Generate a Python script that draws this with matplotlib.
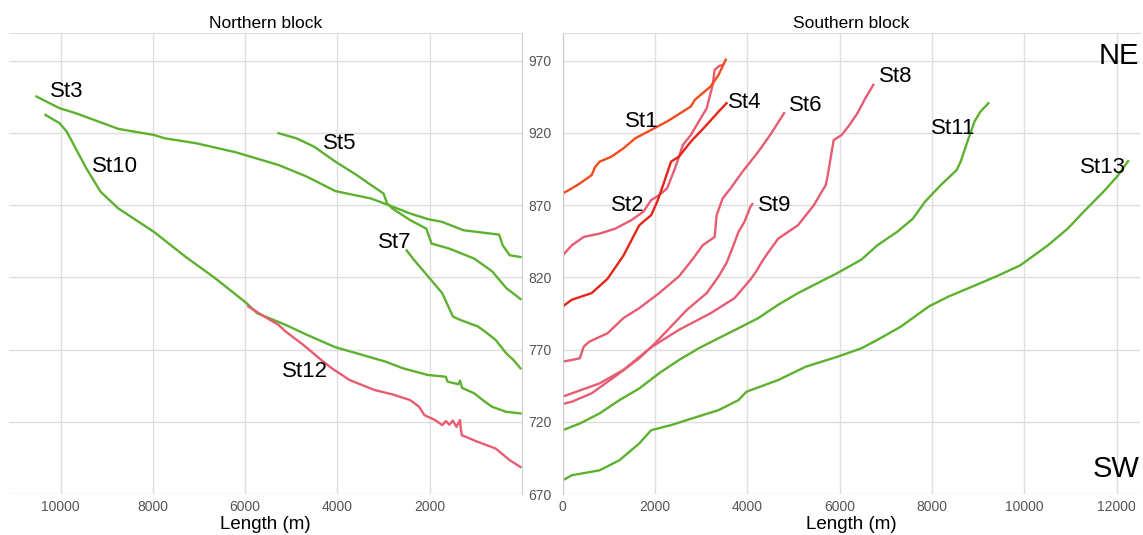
import matplotlib
matplotlib.use("Agg")
from matplotlib import pyplot as plt

plt.rcParams['font.family'] = ['Liberation Sans', 'DejaVu Sans']

# ---- Northern block (x = length from outlet, axis reversed) ----
st3_x = [10525, 10023, 9676, 8750, 7979, 7747, 7053, 6204, 5278, 4661, 4044, 3273, 2887,
         2424, 2038, 1730, 1267, 496, 419, 265, 34]
st3_y = [945.2, 937.1, 933.7, 922.8, 918.6, 916.3, 912.8, 906.6, 897.8, 889.7, 879.7, 874.6, 870.0,
         864.2, 860.3, 858.4, 852.6, 849.6, 842.2, 835.3, 834.1]

st5_x = [5278, 4893, 4507, 4044, 3581, 3273, 3002, 2925, 2810, 2424, 2077, 1961, 1575, 1035,
         649, 341, 33]
st5_y = [919.8, 916.3, 910.5, 900.1, 890.8, 883.9, 878.1, 871.2, 867.7, 859.6, 853.8, 843.4, 839.9, 833.0,
         824.2, 812.6, 805.0]

st7_x = [2501, 2347, 2038, 1730, 1498, 1344, 958, 803, 572, 341, 186, 33]
st7_y = [838.7, 832.3, 820.7, 809.1, 792.9, 790.6, 786.0, 782.5, 776.7, 767.4, 762.8, 757.0]

st10_x = [10332, 10023, 9869, 9676, 9445, 9136, 8750, 7979, 7284, 6667, 5973, 5742, 5124, 4661,
          4044, 3581, 2964, 2578, 2038, 1652, 1614, 1380, 1344, 1300, 1035, 803, 649, 341, 33]
st10_y = [932.5, 926.7, 920.9, 909.3, 895.5, 879.3, 867.7, 851.5, 834.0, 819.8, 802.2, 795.2, 787.1, 780.2,
          771.6, 767.4, 761.7, 757.0, 752.4, 751.2, 747.8, 746.0, 748.5, 743.5, 739.7, 733.9, 730.4, 726.9, 725.8]

st12_x = [5935, 5588, 5278, 5124, 4738, 4352, 4121, 3736, 3196, 2810, 2424, 2231, 2115, 1884,
          1730, 1650, 1575, 1500, 1421, 1344, 1330, 1305, 958, 572, 264, 33]
st12_y = [799.9, 792.9, 787.1, 782.5, 773.2, 762.8, 757.0, 748.9, 742.0, 739.0, 735.0, 730.4, 724.6, 721.2,
          717.7, 720.5, 718.0, 720.8, 716.5, 721.2, 716.0, 710.7, 706.1, 701.5, 693.4, 688.7]

# ---- Southern block ----
st1_x = [0, 198, 370, 627, 700, 799, 1057, 1315, 1573, 1917, 2261, 2776, 2862, 3206, 3378, 3533]
st1_y = [878.1, 881.6, 885.0, 890.8, 896.3, 900.1, 903.6, 909.3, 916.3, 922.1, 927.9, 938.3, 942.9, 952.2,
         960.3, 970.7]

st2_x = [0, 198, 456, 799, 1143, 1487, 1745, 1917, 2089, 2261, 2433, 2604, 2776, 2948, 3120,
         3249, 3292, 3378, 3464]
st2_y = [835.3, 842.2, 848.0, 850.3, 853.8, 859.6, 865.4, 873.5, 876.9, 881.6, 895.5, 911.7, 918.6, 927.9,
         937.1, 953.3, 963.7, 966.1, 967.2]

st4_x = [0, 198, 627, 971, 1143, 1315, 1659, 1917, 2046, 2175, 2347, 2519, 2776, 3120, 3378, 3550]
st4_y = [799.9, 804.5, 809.1, 819.0, 827.0, 835.0, 856.1, 863.1, 872.3, 883.9, 900.1, 903.6, 914.0, 925.6,
         934.8, 940.6]

st6_x = [0, 198, 370, 456, 584, 971, 1315, 1659, 2089, 2519, 2800, 3034, 3292, 3335, 3464,
         3636, 3894, 4237, 4495, 4796]
st6_y = [761.7, 762.8, 764.0, 772.1, 775.6, 781.3, 791.8, 798.7, 809.1, 820.7, 832.0, 842.2, 848.0, 863.1,
         874.6, 881.6, 893.1, 907.0, 918.6, 933.7]

st8_x = [0, 198, 799, 1315, 1917, 2519, 3206, 3722, 4065, 4194, 4300, 4409, 4667, 5097, 5441,
         5613, 5699, 5742, 5828, 5871, 6043, 6215, 6386, 6558, 6730]
st8_y = [737.4, 739.7, 746.6, 755.9, 771.6, 783.7, 795.2, 805.6, 818.4, 824.2, 830.0, 835.3, 846.8, 856.1,
         870.0, 879.3, 883.9, 890.8, 907.0, 915.1, 918.6, 925.6, 933.7, 944.1, 953.3]

st9_x = [0, 198, 627, 1229, 1659, 2003, 2347, 2690, 3120, 3378, 3550, 3700, 3808, 3937, 4065, 4108]
st9_y = [732.3, 733.9, 739.7, 753.6, 764.0, 774.4, 786.0, 797.5, 809.1, 820.7, 830.0, 842.2, 851.5, 858.4,
         868.8, 870.7]

st11_x = [0, 370, 799, 1229, 1659, 2089, 2519, 2948, 3378, 3808, 4237, 4667, 5097, 5527, 5957,
          6472, 6816, 7245, 7589, 7847, 8191, 8535, 8621, 8793, 8922, 9051, 9223]
st11_y = [714.2, 718.8, 725.8, 735.0, 743.1, 753.6, 762.8, 770.9, 777.9, 784.8, 791.8, 801.0, 809.1, 816.1,
          823.1, 832.3, 842.2, 851.5, 860.7, 872.3, 883.9, 894.3, 900.1, 916.3, 927.9, 934.8, 940.6]

st13_x = [0, 198, 799, 1229, 1659, 1917, 2347, 2690, 3378, 3808, 3980, 4667, 5269, 5957, 6472,
          6816, 7331, 7933, 8363, 8879, 9395, 9911, 10512, 10942, 11286, 11715, 12016, 12250]
st13_y = [679.5, 683.0, 686.4, 693.4, 705.0, 714.2, 717.7, 721.2, 728.1, 735.0, 740.8, 748.9, 758.2, 765.1,
          770.9, 776.7, 786.0, 799.9, 806.8, 813.7, 820.7, 828.3, 842.2, 853.8, 865.4, 879.3, 890.0, 900.5]

north_lines = [(st3_x, st3_y, "green"), (st5_x, st5_y, "green"), (st7_x, st7_y, "green"),
               (st10_x, st10_y, "green"), (st12_x, st12_y, "pink")]
south_lines = [(st2_x, st2_y, "pink"), (st6_x, st6_y, "pink"), (st8_x, st8_y, "pink"),
               (st9_x, st9_y, "pink"), (st11_x, st11_y, "green"), (st13_x, st13_y, "green"),
               (st4_x, st4_y, "red"), (st1_x, st1_y, "orange")]

north_labels = [("St3", 9866, 949), ("St10", 8824, 897), ("St5", 3948, 913),
                ("St7", 2756, 844), ("St12", 4707, 755)]
south_labels = [("St1", 1712, 928), ("St4", 3950, 941), ("St6", 5272, 939), ("St8", 7222, 959),
                ("St2", 1415, 870), ("St9", 4601, 870), ("St11", 8465, 923), ("St13", 11694, 896)]

colores = {"green": "#5DB12E", "pink": "#E85C72", "red": "#E52518", "orange": "#F24B1C"}
grid_col = "#DEDEDE"
tick_col = "#555555"

fig = plt.figure(figsize=(11.43, 5.35), dpi=100)
axN = fig.add_axes([0.0079, 0.0766, 0.4484, 0.8612])
axS = fig.add_axes([0.4923, 0.0766, 0.5052, 0.8612])

for ax in (axN, axS):
    ax.set_ylim(670, 989)
    ax.set_yticks([670, 720, 770, 820, 870, 920, 970])
    ax.grid(True, color=grid_col, linewidth=1)
    ax.set_axisbelow(True)
    ax.tick_params(length=0, labelsize=10, labelcolor=tick_col, pad=4)
    for s in ax.spines.values():
        s.set_visible(False)
    ax.spines['top'].set_visible(True)
    ax.spines['top'].set_color(grid_col)
    ax.set_xlabel("Length (m)", fontsize=13.5, labelpad=2)

# Northern block
axN.set_xlim(11120, 10)
axN.set_xticks([10000, 8000, 6000, 4000, 2000])
axN.set_yticklabels([])
axN.spines['right'].set_visible(True)
axN.spines['right'].set_color("#CCCCCC")
axN.set_title("Northern block", fontsize=12.5, pad=4)
for xs, ys, c in north_lines:
    axN.plot(xs, ys, color=colores[c], linewidth=1.7)
for txt, x, y in north_labels:
    axN.text(x, y, txt, fontsize=16, ha='center', va='center')

# Southern block
axS.set_xlim(0, 12510)
axS.set_xticks([0, 2000, 4000, 6000, 8000, 10000, 12000])
axS.spines['left'].set_visible(True)
axS.spines['left'].set_color("#CCCCCC")
axS.tick_params(axis='y', pad=8)
axS.set_title("Southern block", fontsize=12.5, pad=4)
for xs, ys, c in south_lines:
    axS.plot(xs, ys, color=colores[c], linewidth=1.7)
for txt, x, y in south_labels:
    axS.text(x, y, txt, fontsize=16, ha='center', va='center')
axS.text(12490, 973, "NE", fontsize=21, ha='right', va='center')
axS.text(12490, 687, "SW", fontsize=21, ha='right', va='center')

fig.savefig("out.png", dpi=100)
